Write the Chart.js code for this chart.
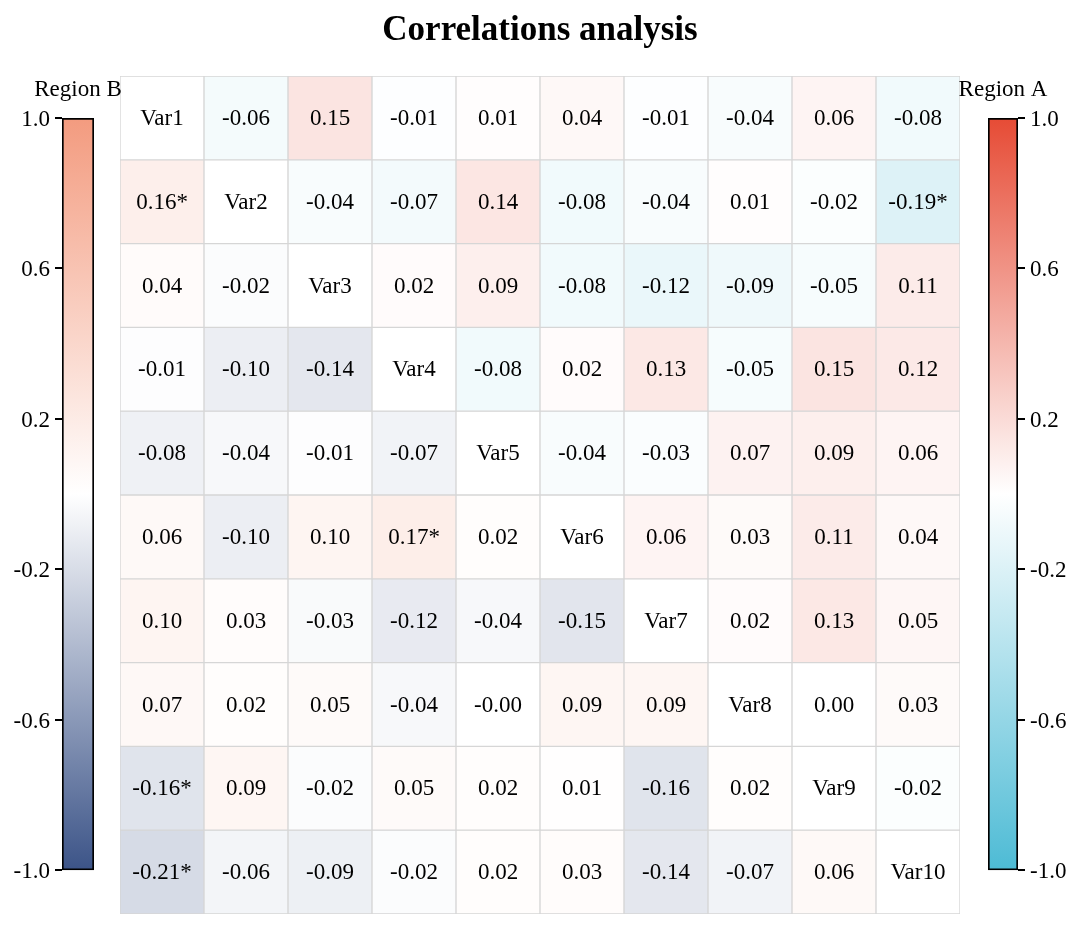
<!DOCTYPE html>
<html>
<head>
<meta charset="utf-8">
<script src="https://cdn.jsdelivr.net/npm/chart.js@4"></script>
<style>
  html, body { margin: 0; padding: 0; background: #fff; }
  #wrap { position: relative; width: 1080px; height: 929px; }
  canvas { position: absolute; }
</style>
</head>
<body>
<div id="wrap">
  <canvas id="matrix" style="left:0;top:0;width:1080px;height:929px"></canvas>
  <canvas id="barB" style="left:0;top:70px;width:130px;height:819px"></canvas>
  <canvas id="barA" style="left:950px;top:70px;width:130px;height:819px"></canvas>
</div>
<script>
// Variables and correlation values (null = diagonal)
const varNames = ['Var1', 'Var2', 'Var3', 'Var4', 'Var5', 'Var6', 'Var7', 'Var8', 'Var9', 'Var10'];
const row1  = [null, -0.06, 0.15, -0.01, 0.01, 0.04, -0.01, -0.04, 0.06, -0.08];
const row2  = [0.16, null, -0.04, -0.07, 0.14, -0.08, -0.04, 0.01, -0.02, -0.19];
const row3  = [0.04, -0.02, null, 0.02, 0.09, -0.08, -0.12, -0.09, -0.05, 0.11];
const row4  = [-0.01, -0.10, -0.14, null, -0.08, 0.02, 0.13, -0.05, 0.15, 0.12];
const row5  = [-0.08, -0.04, -0.01, -0.07, null, -0.04, -0.03, 0.07, 0.09, 0.06];
const row6  = [0.06, -0.10, 0.10, 0.17, 0.02, null, 0.06, 0.03, 0.11, 0.04];
const row7  = [0.10, 0.03, -0.03, -0.12, -0.04, -0.15, null, 0.02, 0.13, 0.05];
const row8  = [0.07, 0.02, 0.05, -0.04, -0.00, 0.09, 0.09, null, 0.00, 0.03];
const row9  = [-0.16, 0.09, -0.02, 0.05, 0.02, 0.01, -0.16, 0.02, null, -0.02];
const row10 = [-0.21, -0.06, -0.09, -0.02, 0.02, 0.03, -0.14, -0.07, 0.06, null];
const corrRows = [row1, row2, row3, row4, row5, row6, row7, row8, row9, row10];
// cells marked with * (row, col)
const starredCells = [[1, 0], [1, 9], [5, 3], [8, 0], [9, 0]];
const colorbarTicks = [-1.0, -0.6, -0.2, 0.2, 0.6, 1.0];

// colour maps: upper triangle = Region A, lower triangle = Region B
const regionA = { neg: [77, 187, 213], pos: [230, 75, 53] };
const regionB = { neg: [60, 84, 136], pos: [243, 155, 127] };

const serif = "'Liberation Serif', 'DejaVu Serif', serif";
Chart.defaults.font.family = serif;
Chart.defaults.color = '#000';

function mixWhite(rgb, t) {
    const c = rgb.map(v => Math.round(255 + (v - 255) * t));
    return 'rgb(' + c.join(',') + ')';
}

function cellColor(v, cmap) {
    if (v === null) return '#ffffff';
    return v >= 0 ? mixWhite(cmap.pos, v) : mixWhite(cmap.neg, -v);
}

function fmt(v) {
    const neg = v < 0 || Object.is(v, -0);
    return (neg ? '-' : '') + Math.abs(v).toFixed(2);
}

function isStarred(r, c) {
    return starredCells.some(p => p[0] === r && p[1] === c);
}

// one floating-bar dataset per matrix row
const rowDatasets = corrRows.map((vals, r) => ({
    data: vals.map(() => [r, r + 1]),
    backgroundColor: vals.map((v, c) => cellColor(v, c > r ? regionA : regionB)),
    borderColor: '#d6d6d6',
    borderWidth: 1,
    borderSkipped: false,
    grouped: false,
    barPercentage: 1,
    categoryPercentage: 1
}));

// write the values / variable names inside the cells
const cellLabels = {
    id: 'cellLabels',
    afterDatasetsDraw(chart) {
        const { ctx, scales: { x, y } } = chart;
        ctx.save();
        ctx.font = '23px ' + serif;
        ctx.fillStyle = '#000';
        ctx.textAlign = 'center';
        ctx.textBaseline = 'middle';
        corrRows.forEach((vals, r) => {
            vals.forEach((v, c) => {
                const txt = v === null ? varNames[r] : fmt(v) + (isStarred(r, c) ? '*' : '');
                ctx.fillText(txt, x.getPixelForValue(c), y.getPixelForValue(r + 0.5) + 1);
            });
        });
        ctx.restore();
    }
};

new Chart(document.getElementById('matrix'), {
    type: 'bar',
    data: { labels: varNames, datasets: rowDatasets },
    options: {
        responsive: false,
        animation: false,
        layout: { padding: { left: 120, right: 120, top: 0, bottom: 15 } },
        scales: {
            x: { display: false },
            y: { display: false, min: 0, max: 10, reverse: true }
        },
        plugins: {
            legend: { display: false },
            tooltip: { enabled: false },
            title: {
                display: true,
                text: 'Correlations analysis',
                color: '#000',
                font: { size: 35, weight: 'bold', family: serif, lineHeight: 1.2 },
                padding: { top: 10, bottom: 24 }
            }
        }
    },
    plugins: [cellLabels]
});

// colour bar: one floating bar from -1 to 1 filled with a gradient
function makeColorbar(id, title, cmap, side) {
    const captionPlugin = {
        id: 'caption',
        afterDraw(chart) {
            const { ctx, chartArea } = chart;
            ctx.save();
            ctx.font = '23px ' + serif;
            ctx.fillStyle = '#000';
            ctx.textAlign = 'center';
            ctx.textBaseline = 'middle';
            ctx.fillText(title, (chartArea.left + chartArea.right) / 2, chartArea.top - 28);
            ctx.restore();
        }
    };
    const pad = side === 'left'
        ? { left: 0, right: 36, top: 48, bottom: 16 }
        : { left: 38, right: 0, top: 48, bottom: 16 };
    return new Chart(document.getElementById(id), {
        type: 'bar',
        data: {
            labels: [title],
            datasets: [{
                data: [[-1, 1]],
                backgroundColor(context) {
                    const area = context.chart.chartArea;
                    if (!area) return '#fff';
                    const g = context.chart.ctx.createLinearGradient(0, area.bottom, 0, area.top);
                    g.addColorStop(0, mixWhite(cmap.neg, 1));
                    g.addColorStop(0.5, '#ffffff');
                    g.addColorStop(1, mixWhite(cmap.pos, 1));
                    return g;
                },
                borderColor: '#000',
                borderWidth: 2,
                borderSkipped: false,
                barPercentage: 1,
                categoryPercentage: 1
            }]
        },
        options: {
            responsive: false,
            animation: false,
            layout: { padding: pad },
            scales: {
                x: { display: false },
                y: {
                    position: side,
                    min: -1,
                    max: 1,
                    afterBuildTicks(scale) {
                        scale.ticks = colorbarTicks.map(v => ({ value: v }));
                    },
                    afterFit(scale) {
                        scale.width = 62;
                    },
                    ticks: {
                        callback: v => v.toFixed(1),
                        font: { size: 23, family: serif },
                        color: '#000',
                        padding: 5,
                        labelOffset: 2
                    },
                    grid: {
                        drawOnChartArea: false,
                        drawTicks: true,
                        tickLength: 7,
                        color: '#000',
                        lineWidth: 2
                    },
                    border: { display: false }
                }
            },
            plugins: {
                legend: { display: false },
                tooltip: { enabled: false }
            }
        },
        plugins: [captionPlugin]
    });
}

makeColorbar('barB', 'Region B', regionB, 'left');
makeColorbar('barA', 'Region A', regionA, 'right');
</script>
</body>
</html>
